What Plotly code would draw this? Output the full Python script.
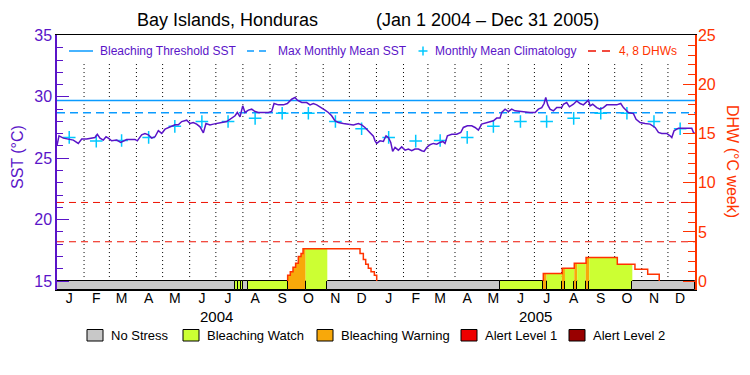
import numpy as np
import pandas as pd
import plotly.graph_objects as go

# ---------------- data ----------------
START = pd.Timestamp("2004-01-01")
END = pd.Timestamp("2006-01-01")

SST_DAYS = [0, 2.3, 7.3, 13, 18.7, 24.4, 28.3, 34, 39.7, 43.5, 46.2, 49.3, 53.1, 56.2, 58.8,
            62.6, 68.4, 73, 79.8, 89.4, 92, 97, 100.8, 104.7, 108.5, 112.3, 116.1, 120,
            123.8, 129.5, 135.2, 139, 142.9, 148.6, 152.4, 156.2, 160, 163.9, 167.7, 170.7,
            175.3, 179.1, 184.9, 188.7, 194.4, 200.2, 204, 206.6, 209.7, 212.8, 215.4, 219.3,
            223.1, 226.9, 230.7, 236.4, 242.2, 246, 248.7, 253.6, 259.4, 263.9, 268.9, 272.7,
            275.4, 280.4, 286.1, 289.9, 293.7, 297.6, 303.3, 307.1, 310.9, 314.7, 318.6, 322.4,
            328.1, 333.8, 339.6, 345.3, 349.1, 352.9, 358.7, 362.5, 364.4, 366.3, 370.1, 374,
            377, 379.7, 382.4, 384.6, 387.3, 391.1, 394.9, 398.8, 402.6, 406.4, 410.2, 414.1,
            417.9, 420.6, 423.6, 427.4, 431.2, 435.1, 438.9, 442, 444.6, 447.3, 452.3, 458,
            462.6, 465.6, 470.2, 475.2, 479, 482.8, 486.6, 490.5, 494.3, 500, 503.8, 507.6,
            509.5, 513.4, 517.2, 521, 524.8, 530.6, 536.3, 542, 547.8, 551.6, 555.4, 558.1,
            560, 562.3, 564.9, 568.8, 572.6, 578.3, 580.2, 584, 587.1, 591.7, 595.5, 599.3,
            603.1, 606.2, 608.9, 610.8, 613.8, 618.4, 622.2, 626.1, 629.9, 635.6, 641.3, 645.9,
            649, 654.7, 660.5, 663.5, 668.1, 673.8, 679.5, 685.3, 689.1, 692.9, 698.6, 702.4,
            704.4, 707, 712, 717.8, 721.6, 727.3, 729.2, 730.5]
SST_VALS = [26.05, 26.83, 26.64, 26.56, 26.48, 26.21, 26.56, 26.56, 26.64, 26.69, 26.96, 26.64,
            26.48, 26.75, 26.64, 26.42, 26.48, 26.29, 26.53, 26.53, 26.42, 26.91, 27.02, 26.91,
            26.64, 26.75, 27.24, 27.02, 27.37, 27.56, 27.72, 27.72, 27.99, 28.1, 27.83, 27.91,
            27.78, 27.56, 27.07, 27.83, 27.72, 27.78, 27.83, 27.91, 27.99, 28.27, 28.46, 28.73,
            28.37, 29.27, 28.73, 28.92, 29.0, 28.81, 28.73, 28.73, 28.73, 28.81, 29.46, 29.35,
            29.35, 29.46, 29.81, 29.95, 29.73, 29.54, 29.54, 29.35, 29.46, 29.35, 29.13, 28.92,
            28.73, 28.46, 28.05, 27.91, 27.83, 27.78, 27.72, 27.83, 27.72, 27.51, 27.1, 26.8,
            26.42, 26.21, 26.42, 26.37, 26.83, 26.69, 26.29, 25.56, 25.88, 25.66, 25.93, 25.66,
            25.75, 25.61, 25.75, 25.75, 25.61, 25.56, 25.88, 26.1, 26.21, 26.15, 26.29, 26.37,
            26.21, 26.83, 26.96, 26.96, 27.1, 27.51, 27.64, 27.64, 27.51, 27.29, 27.78, 27.86,
            27.91, 28.05, 28.27, 28.27, 28.73, 29.0, 28.81, 29.0, 28.86, 28.81, 28.73, 28.73,
            28.73, 29.0, 29.13, 29.46, 29.95, 29.35, 29.0, 28.86, 29.13, 29.13, 29.4, 29.54,
            29.19, 29.4, 29.67, 29.46, 29.35, 29.54, 29.73, 29.27, 29.4, 29.13, 29.0, 29.13,
            29.35, 29.35, 29.35, 29.46, 29.13, 28.73, 28.64, 28.18, 27.91, 27.83, 27.78, 27.51,
            27.1, 27.02, 27.02, 26.83, 26.69, 27.24, 27.45, 27.45, 27.43, 27.45, 27.1, 27.05]

CLIM_MONTHLY = [26.7, 26.4, 26.45, 26.7, 27.6, 28.0, 28.0, 28.25, 28.67, 28.67, 28.0, 27.4]
BLEACH_THRESHOLD = 29.7
MMM = 28.7
DHW_LEVELS = [4, 8]

DHW_DAYS = [264.3, 267.3, 270.4, 273.4, 276.5, 279.6, 281.9, 347.2, 351.0, 353.7, 356.7, 359.8,
            363.6, 366.3, 557.2, 578.9, 592.7, 606.2, 642.0, 662.2, 676.8, 690.0]
DHW_VALS = [0.6, 0.95, 1.4, 1.8, 2.5, 2.8, 3.3, 2.8, 2.2, 1.7, 1.3, 0.95,
            0.6, 0.0, 0.78, 1.3, 1.8, 2.4, 1.7, 1.2, 0.68, 0.0]

STRESS_EDGES = [0, 204, 207.5, 210.3, 212.9, 218.5, 264.3, 284.9, 309.7, 507.6, 557.2, 561,
                578.5, 582, 592.7, 596, 605.8, 609.8, 659.2, 731]
STRESS_LEVELS = [0, 1, 1, 1, 0, 1, 2, 1, 0, 1, 2, 1, 2, 1, 2, 1, 2, 1, 0]
STRESS_NAMES = ["No Stress", "Bleaching Watch", "Bleaching Warning", "Alert Level 1", "Alert Level 2"]
STRESS_COLORS = ["#C8C8C8", "#CCFF33", "#F8A80A", "#EE0000", "#990000"]

MONTH_LETTERS = ["J", "F", "M", "A", "M", "J", "J", "A", "S", "O", "N", "D"]
YEARS = [2004, 2005]

# ---------------- styling ----------------
PURPLE = "#5A14C8"
SKY = "#0A9BFF"
CYAN = "#00C8FF"
DHW_RED = "#FF3300"
RED_DASH = "#EE1100"
FONT = "Liberation Sans"

W, H = 750, 375
ML, MR, MT, MB = 57, 55, 35, 85
PW, PH = W - ML - MR, H - MT - MB
Y_MIN, Y_MAX = 14.27, 35.04
K = 1.25  # DHW units per degC
Y2_MIN, Y2_MAX = (Y_MIN - 15) * K, (Y_MAX - 15) * K


def px(x):
    return (x - ML) / PW


def py(y):
    return (H - MB - y) / PH


def to_date(days):
    return [START + pd.to_timedelta(d, unit="D") for d in days]


def dhw_at(t):
    idx = np.searchsorted(np.array(DHW_DAYS), t, side="right") - 1
    return 0.0 if idx < 0 else DHW_VALS[idx]


fig = go.Figure()

# stress bar
edges = np.array(STRESS_EDGES, dtype=float)
mids = (edges[:-1] + edges[1:]) / 2
widths = (edges[1:] - edges[:-1]) * 86400000
fig.add_trace(go.Bar(
    x=to_date(mids), y=[-Y2_MIN] * len(mids), base=Y2_MIN, width=widths,
    marker=dict(color=[STRESS_COLORS[l] for l in STRESS_LEVELS], line=dict(color="black", width=1)),
    yaxis="y2", showlegend=False, hoverinfo="skip"))

# stress-coloured fill under DHW
for i, lvl in enumerate(STRESS_LEVELS):
    if lvl == 0:
        continue
    s, e = edges[i], edges[i + 1]
    xs = [s] + [d for d in DHW_DAYS if s < d < e] + [e]
    ys = [dhw_at(v) for v in xs[:-1]] + [dhw_at(e - 1e-6)]
    if max(ys) <= 0:
        continue
    fig.add_trace(go.Scatter(
        x=to_date(xs), y=ys, mode="lines", line=dict(width=0, shape="hv"),
        fill="tozeroy", fillcolor=STRESS_COLORS[lvl], yaxis="y2",
        showlegend=False, hoverinfo="skip"))

# DHW step line (episodes)
lx, ly = [], []
started = False
for d, v in zip(DHW_DAYS, DHW_VALS):
    if not started:
        lx.append(d); ly.append(0.0)
        started = True
    lx.append(d); ly.append(v)
    if v == 0:
        lx.append(None); ly.append(None)
        started = False
fig.add_trace(go.Scatter(
    x=[None if d is None else START + pd.to_timedelta(d, unit="D") for d in lx], y=ly,
    mode="lines", line=dict(color=DHW_RED, width=1.5, shape="hv"),
    yaxis="y2", showlegend=False, hoverinfo="skip", connectgaps=False))

# DHW 4, 8 lines
for lv in DHW_LEVELS:
    fig.add_trace(go.Scatter(
        x=[START, END], y=[lv, lv], mode="lines",
        line=dict(color=RED_DASH, width=1, dash="7px,5px"),
        yaxis="y2", showlegend=False, hoverinfo="skip"))

# threshold + MMM
fig.add_trace(go.Scatter(x=[START, END], y=[BLEACH_THRESHOLD] * 2, mode="lines",
                         line=dict(color=SKY, width=1.5), showlegend=False, hoverinfo="skip"))
fig.add_trace(go.Scatter(x=[START, END], y=[MMM] * 2, mode="lines",
                         line=dict(color=SKY, width=1.5, dash="8px,5px"),
                         showlegend=False, hoverinfo="skip"))

# climatology crosses
clim_dates = [pd.Timestamp(year=y, month=m, day=15) for y in YEARS for m in range(1, 13)]
fig.add_trace(go.Scatter(
    x=clim_dates, y=CLIM_MONTHLY * len(YEARS), mode="markers",
    marker=dict(symbol="cross-thin", size=9, line=dict(color=CYAN, width=1.5)),
    showlegend=False, hoverinfo="skip"))

# SST
fig.add_trace(go.Scatter(x=to_date(SST_DAYS), y=SST_VALS, mode="lines",
                         line=dict(color=PURPLE, width=1.5), showlegend=False, hoverinfo="skip"))

shapes = []
# dotted monthly gridlines
for m in pd.date_range("2004-02-01", "2005-12-01", freq="MS"):
    shapes.append(dict(type="line", xref="x", yref="y", x0=m, x1=m, y0=15, y1=32.7,
                       line=dict(color="black", width=1, dash="1px,3px"), layer="below"))

annotations = []
for yr in YEARS:
    annotations.append(dict(x=pd.Timestamp(year=yr, month=7, day=2), xref="x", y=py(316), yref="paper",
                            text=str(yr), showarrow=False, font=dict(family=FONT, size=15, color="black"),
                            xanchor="center", yanchor="middle"))

# title
annotations.append(dict(x=px(227.5), y=py(20), xref="paper", yref="paper", text="Bay Islands, Honduras",
                        showarrow=False, font=dict(family=FONT, size=18, color="black"), xanchor="center", yanchor="middle"))
annotations.append(dict(x=px(487.5), y=py(20), xref="paper", yref="paper", text="(Jan 1 2004 \u2013 Dec 31 2005)",
                        showarrow=False, font=dict(family=FONT, size=18, color="black"), xanchor="center", yanchor="middle"))

# axis titles
annotations.append(dict(x=px(17), y=py(157), xref="paper", yref="paper", text="SST (\u00b0C)", textangle=-90,
                        showarrow=False, font=dict(family=FONT, size=16, color=PURPLE), xanchor="center", yanchor="middle"))
annotations.append(dict(x=px(733), y=py(161), xref="paper", yref="paper", text="DHW (\u00b0C week)", textangle=90,
                        showarrow=False, font=dict(family=FONT, size=16, color=DHW_RED), xanchor="center", yanchor="middle"))

# top legend
LY = 51
shapes.append(dict(type="line", xref="paper", yref="paper", x0=px(69), x1=px(93), y0=py(LY), y1=py(LY),
                   line=dict(color=SKY, width=1.5)))
shapes.append(dict(type="line", xref="paper", yref="paper", x0=px(247), x1=px(267), y0=py(LY), y1=py(LY),
                   line=dict(color=SKY, width=1.5, dash="7px,5px")))
shapes.append(dict(type="line", xref="paper", yref="paper", x0=px(418.5), x1=px(427.5), y0=py(LY), y1=py(LY),
                   line=dict(color=CYAN, width=1.5)))
shapes.append(dict(type="line", xref="paper", yref="paper", x0=px(423), x1=px(423), y0=py(LY - 4.5), y1=py(LY + 4.5),
                   line=dict(color=CYAN, width=1.5)))
shapes.append(dict(type="line", xref="paper", yref="paper", x0=px(588), x1=px(610), y0=py(LY), y1=py(LY),
                   line=dict(color=RED_DASH, width=1.5, dash="8px,6px")))
for xl, txt, col in [(98, "Bleaching Threshold SST", PURPLE), (276, "Max Monthly Mean SST", PURPLE),
                     (433, "Monthly Mean Climatology", PURPLE), (617, "4, 8 DHWs", DHW_RED)]:
    annotations.append(dict(x=px(xl), y=py(LY), xref="paper", yref="paper", text=txt, showarrow=False,
                            font=dict(family=FONT, size=12, color=col), xanchor="left", yanchor="middle"))

# bottom stress legend
BOX_X = [87, 183, 317, 461, 569]
for bx, name, col in zip(BOX_X, STRESS_NAMES, STRESS_COLORS):
    shapes.append(dict(type="rect", xref="paper", yref="paper", x0=px(bx), x1=px(bx + 16),
                       y0=py(341), y1=py(329.5), fillcolor=col, line=dict(color="black", width=1)))
    annotations.append(dict(x=px(bx + 22), y=py(335.5), xref="paper", yref="paper", text=name, showarrow=False,
                            font=dict(family=FONT, size=13, color="black"), xanchor="left", yanchor="middle"))

fig.update_layout(
    width=W, height=H, margin=dict(l=ML, r=MR, t=MT, b=MB, autoexpand=False),
    paper_bgcolor="white", plot_bgcolor="white",
    showlegend=False, bargap=0, hovermode=False,
    shapes=shapes, annotations=annotations,
    font=dict(family=FONT),
    xaxis=dict(type="date", range=[START, END], showgrid=False, zeroline=False,
               tickmode="array", tickvals=clim_dates, ticktext=MONTH_LETTERS * len(YEARS),
               ticks="", ticklabelstandoff=-5, tickfont=dict(family=FONT, size=14, color="black"),
               showline=True, linecolor="black", linewidth=1, mirror=True),
    yaxis=dict(range=[Y_MIN, Y_MAX], tickmode="linear", tick0=0, dtick=5, showgrid=False, zeroline=False,
               ticks="inside", ticklen=12, tickwidth=1, tickcolor=PURPLE,
               minor=dict(dtick=1, tick0=0, ticks="inside", ticklen=6, tickcolor=PURPLE, tickwidth=1, showgrid=False),
               tickfont=dict(family=FONT, size=16, color=PURPLE),
               showline=True, linecolor=PURPLE, linewidth=1.5),
    yaxis2=dict(range=[Y2_MIN, Y2_MAX], overlaying="y", side="right", tickmode="linear", tick0=0, dtick=5,
                showgrid=False, zeroline=False,
                ticks="inside", ticklen=12, tickwidth=1, tickcolor=DHW_RED,
                minor=dict(dtick=1, tick0=0, ticks="inside", ticklen=7, tickcolor=DHW_RED, tickwidth=1, showgrid=False),
                ticklabelstandoff=-2,
                tickfont=dict(family=FONT, size=16, color=DHW_RED),
                showline=True, linecolor=DHW_RED, linewidth=1.5),
)

fig.write_html("out.html", config={"displayModeBar": False},
               post_script="document.body.style.margin='0';document.body.style.padding='0';")
